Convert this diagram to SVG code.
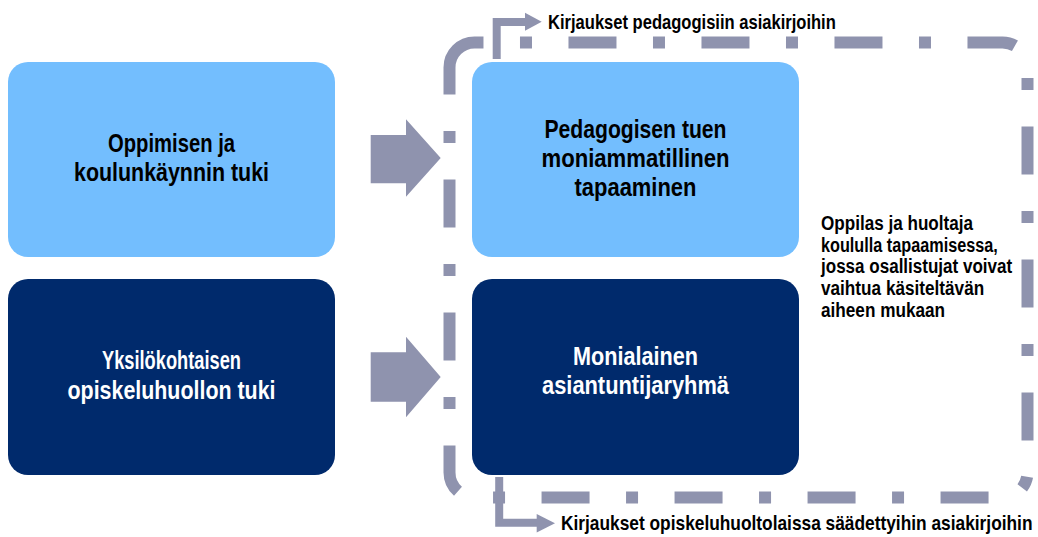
<svg xmlns="http://www.w3.org/2000/svg" width="1038" height="537" viewBox="0 0 1038 537">
  <style>
    .lt { fill: #73BEFE; }
    .dk { fill: #002A6C; }
    .t { font-family: "Liberation Sans", Arial, sans-serif; font-weight: bold; text-anchor: middle; }
    .tb { font-size: 25px; fill: #000; }
    .tw { font-size: 25px; fill: #fff; }
    .lbl { font-family: "Liberation Sans", Arial, sans-serif; font-weight: bold; font-size: 20px; fill: #000; }
    .side { font-family: "Liberation Sans", Arial, sans-serif; font-weight: bold; font-size: 21px; fill: #000; }
    .g { fill: #8F93AE; }
    .gl { fill: none; stroke: #8F93AE; stroke-width: 8; stroke-linejoin: miter; }
  </style>
  <rect width="1038" height="537" fill="#fff"/>

  <g id="frame">
    <path d="M449.5,67.5 A25,25 0 0 1 474.5,42.5 H1002.5 A25,25 0 0 1 1027.5,67.5 V472.5 A25,25 0 0 1 1002.5,497.5 H474.5 A25,25 0 0 1 449.5,472.5 Z" fill="none" stroke="#8F93AE" stroke-width="12" stroke-dasharray="48 36.5 12 36.5"/>
  </g>

  <g id="node-oppimisen">
    <rect class="lt" x="8" y="62" width="327" height="195" rx="20"/>
    <text class="t tb" x="171.5" y="151.5" textLength="127" lengthAdjust="spacingAndGlyphs">Oppimisen ja</text>
    <text class="t tb" x="171.5" y="181" textLength="195" lengthAdjust="spacingAndGlyphs">koulunkäynnin tuki</text>
  </g>

  <g id="node-yksilo">
    <rect class="dk" x="8" y="279" width="327" height="196" rx="20"/>
    <text class="t tw" x="171.5" y="369" textLength="139" lengthAdjust="spacingAndGlyphs">Yksilökohtaisen</text>
    <text class="t tw" x="171.5" y="398.5" textLength="208" lengthAdjust="spacingAndGlyphs">opiskeluhuollon tuki</text>
  </g>

  <g id="node-pedagogisen">
    <rect class="lt" x="472" y="62" width="327" height="195" rx="20"/>
    <text class="t tb" x="635.5" y="138" textLength="182" lengthAdjust="spacingAndGlyphs">Pedagogisen tuen</text>
    <text class="t tb" x="635.5" y="167" textLength="188" lengthAdjust="spacingAndGlyphs">moniammatillinen</text>
    <text class="t tb" x="635.5" y="196" textLength="122" lengthAdjust="spacingAndGlyphs">tapaaminen</text>
  </g>

  <g id="node-monialainen">
    <rect class="dk" x="472" y="279" width="327" height="196" rx="20"/>
    <text class="t tw" x="635.5" y="365" textLength="125" lengthAdjust="spacingAndGlyphs">Monialainen</text>
    <text class="t tw" x="635.5" y="394" textLength="187" lengthAdjust="spacingAndGlyphs">asiantuntijaryhmä</text>
  </g>

  <g id="node-note">
    <text class="side" transform="translate(821,230) scale(0.8,1)" textLength="190" lengthAdjust="spacingAndGlyphs">Oppilas ja huoltaja</text>
    <text class="side" transform="translate(821,251.7) scale(0.8,1)" textLength="221" lengthAdjust="spacingAndGlyphs">koululla tapaamisessa,</text>
    <text class="side" transform="translate(821,273.4) scale(0.8,1)" textLength="239" lengthAdjust="spacingAndGlyphs">jossa osallistujat voivat</text>
    <text class="side" transform="translate(821,295.1) scale(0.8,1)" textLength="204" lengthAdjust="spacingAndGlyphs">vaihtua käsiteltävän</text>
    <text class="side" transform="translate(821,316.8) scale(0.8,1)" textLength="155" lengthAdjust="spacingAndGlyphs">aiheen mukaan</text>
  </g>

  <g id="node-label-top">
    <text class="lbl" transform="translate(548,28.5) scale(0.82,1)" textLength="351" lengthAdjust="spacingAndGlyphs">Kirjaukset pedagogisiin asiakirjoihin</text>
  </g>
  <g id="node-label-bottom">
    <text class="lbl" transform="translate(561,530) scale(0.82,1)" textLength="575" lengthAdjust="spacingAndGlyphs">Kirjaukset opiskeluhuoltolaissa säädettyihin asiakirjoihin</text>
  </g>

  <g id="connectors">
    <polygon class="g" points="370.7,135 406,135 406,119.3 440.7,158 406,196.7 406,183.3 370.7,183.3"/>
    <polygon class="g" points="370.7,352.3 406,352.3 406,336.7 440.7,377 406,417.3 406,401.7 370.7,401.7"/>
    <path class="gl" d="M496.7,59 V22 H526"/>
    <polygon class="g" points="525,12.7 541.7,21.7 525,30.7"/>
    <path class="gl" d="M499.2,477 V522.8 H537.5"/>
    <polygon class="g" points="536.7,514 555,523.2 536.7,532.5"/>
  </g>
</svg>
